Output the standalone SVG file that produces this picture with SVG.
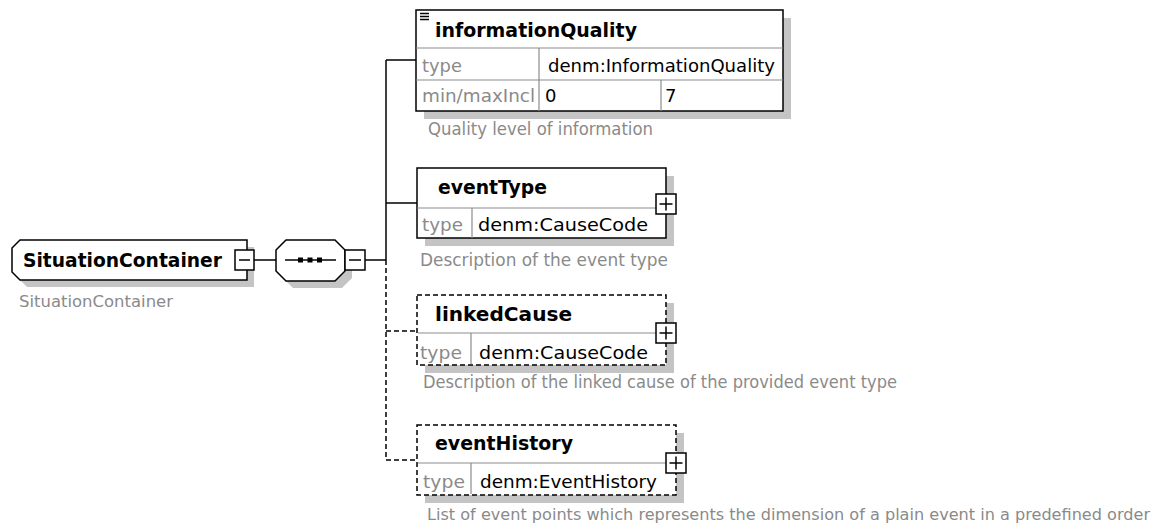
<svg xmlns="http://www.w3.org/2000/svg" width="1167" height="531" viewBox="0 0 1167 531">
<style>
.bg{fill:#ffffff}
.box{fill:#ffffff;stroke:#000;stroke-width:1.5}
.dbox{fill:#ffffff;stroke:#000;stroke-width:1.5;stroke-dasharray:5 3}
.shd{fill:#c4c4c4;stroke:none}
.grid{stroke:#8c8c8c;stroke-width:1.2;fill:none}
.ln{stroke:#000;stroke-width:1.5;fill:none}
.dln{stroke:#000;stroke-width:1.5;fill:none;stroke-dasharray:5 3}
.ttl{font-family:"DejaVu Sans",sans-serif;font-weight:bold;font-size:19px;fill:#000}
.val{font-family:"DejaVu Sans",sans-serif;font-size:18px;fill:#000}
.lbl{font-family:"DejaVu Sans",sans-serif;font-size:18px;fill:#8a8a8a}
.dsc{font-family:"DejaVu Sans",sans-serif;font-size:17px;fill:#8a8a8a}
.pm{fill:#ffffff;stroke:#000;stroke-width:1.5}
</style>
<rect class="bg" x="0" y="0" width="1167" height="531"/>

<g id="connectors">
  <line class="ln" x1="254" y1="260" x2="276" y2="260"/>
  <line class="ln" x1="365" y1="260" x2="386" y2="260"/>
  <line class="ln" x1="386" y1="60" x2="386" y2="260"/>
  <line class="dln" x1="386" y1="260" x2="386" y2="460"/>
  <line class="ln" x1="386" y1="60" x2="416" y2="60"/>
  <line class="ln" x1="386" y1="203" x2="417" y2="203"/>
  <line class="dln" x1="386" y1="331" x2="417" y2="331"/>
  <line class="dln" x1="386" y1="460" x2="417" y2="460"/>
</g>

<g id="node-SituationContainer">
  <path class="shd" d="M27,247 H254 V287 H27 L19,279 V255 Z"/>
  <path class="box" d="M20,240 H247 V280 H20 L12,272 V248 Z"/>
  <text class="ttl" x="23" y="267" textLength="199" lengthAdjust="spacingAndGlyphs">SituationContainer</text>
  <rect class="pm" x="235" y="250" width="19" height="20"/>
  <line class="ln" x1="239" y1="260" x2="250" y2="260"/>
  <text class="dsc" x="19" y="307" textLength="154" lengthAdjust="spacingAndGlyphs" style="font-size:15px">SituationContainer</text>
</g>

<g id="node-sequence">
  <path class="shd" d="M293,247 H342 L352,257 V278 L342,288 H293 L283,278 V257 Z"/>
  <path class="box" d="M286,240 H335 L345,250 V271 L335,281 H286 L276,271 V250 Z"/>
  <line class="ln" x1="285" y1="260" x2="336" y2="260"/>
  <rect x="298" y="257.5" width="5" height="5" fill="#000"/>
  <rect x="307.5" y="257.5" width="5" height="5" fill="#000"/>
  <rect x="317" y="257.5" width="5" height="5" fill="#000"/>
  <rect class="pm" x="345" y="250" width="20" height="20"/>
  <line class="ln" x1="349" y1="260" x2="361" y2="260"/>
</g>

<g id="node-informationQuality">
  <rect class="shd" x="424" y="18" width="367" height="101"/>
  <rect class="box" x="416" y="10" width="367" height="101"/>
  <line class="grid" x1="416" y1="48" x2="783" y2="48"/>
  <line class="grid" x1="416" y1="80" x2="783" y2="80"/>
  <line class="grid" x1="539" y1="48" x2="539" y2="111"/>
  <line class="grid" x1="661" y1="80" x2="661" y2="111"/>
  <line class="ln" x1="420" y1="13.5" x2="429" y2="13.5" stroke-width="1.2"/>
  <line class="ln" x1="420" y1="16.5" x2="429" y2="16.5" stroke-width="1.2"/>
  <line class="ln" x1="420" y1="19.5" x2="429" y2="19.5" stroke-width="1.2"/>
  <text class="ttl" x="435" y="37" textLength="202" lengthAdjust="spacingAndGlyphs">informationQuality</text>
  <text class="lbl" x="422" y="72" textLength="40" lengthAdjust="spacingAndGlyphs">type</text>
  <text class="val" x="548" y="72" textLength="227" lengthAdjust="spacingAndGlyphs">denm:InformationQuality</text>
  <text class="lbl" x="422" y="102" textLength="113" lengthAdjust="spacingAndGlyphs">min/maxIncl</text>
  <text class="val" x="545" y="102">0</text>
  <text class="val" x="665" y="102">7</text>
  <text class="dsc" x="428" y="135" textLength="225" lengthAdjust="spacingAndGlyphs">Quality level of information</text>
</g>

<g id="node-eventType">
  <rect class="shd" x="425" y="176" width="249" height="70"/>
  <rect class="box" x="417" y="168" width="249" height="70"/>
  <line class="grid" x1="417" y1="208" x2="666" y2="208"/>
  <line class="grid" x1="472" y1="208" x2="472" y2="238"/>
  <text class="ttl" x="438" y="194" textLength="109" lengthAdjust="spacingAndGlyphs">eventType</text>
  <text class="lbl" x="422" y="231" textLength="41" lengthAdjust="spacingAndGlyphs">type</text>
  <text class="val" x="478" y="231" textLength="170" lengthAdjust="spacingAndGlyphs">denm:CauseCode</text>
  <rect class="pm" x="656" y="194" width="20" height="20"/>
  <line class="ln" x1="659.5" y1="204" x2="672.5" y2="204"/>
  <line class="ln" x1="666" y1="197.5" x2="666" y2="210.5"/>
  <text class="dsc" x="420" y="266" textLength="248" lengthAdjust="spacingAndGlyphs">Description of the event type</text>
</g>

<g id="node-linkedCause">
  <rect class="shd" x="425" y="303" width="249" height="70"/>
  <rect class="dbox" x="417" y="295" width="249" height="70"/>
  <line class="grid" x1="418" y1="333" x2="665" y2="333"/>
  <line class="grid" x1="471" y1="333" x2="471" y2="364"/>
  <text class="ttl" x="435" y="321" textLength="137" lengthAdjust="spacingAndGlyphs">linkedCause</text>
  <text class="lbl" x="420" y="359" textLength="42" lengthAdjust="spacingAndGlyphs">type</text>
  <text class="val" x="479" y="359" textLength="169" lengthAdjust="spacingAndGlyphs">denm:CauseCode</text>
  <rect class="pm" x="656" y="323" width="20" height="20"/>
  <line class="ln" x1="659.5" y1="333" x2="672.5" y2="333"/>
  <line class="ln" x1="666" y1="326.5" x2="666" y2="339.5"/>
  <text class="dsc" x="423" y="388" textLength="474" lengthAdjust="spacingAndGlyphs">Description of the linked cause of the provided event type</text>
</g>

<g id="node-eventHistory">
  <rect class="shd" x="425" y="433" width="259" height="70"/>
  <rect class="dbox" x="417" y="425" width="259" height="70"/>
  <line class="grid" x1="418" y1="463" x2="675" y2="463"/>
  <line class="grid" x1="471" y1="463" x2="471" y2="494"/>
  <text class="ttl" x="435" y="450" textLength="138" lengthAdjust="spacingAndGlyphs">eventHistory</text>
  <text class="lbl" x="423" y="488" textLength="42" lengthAdjust="spacingAndGlyphs">type</text>
  <text class="val" x="480" y="488" textLength="177" lengthAdjust="spacingAndGlyphs">denm:EventHistory</text>
  <rect class="pm" x="666" y="453" width="20" height="20"/>
  <line class="ln" x1="669.5" y1="463" x2="682.5" y2="463"/>
  <line class="ln" x1="676" y1="456.5" x2="676" y2="469.5"/>
  <text class="dsc" x="427" y="520" textLength="723" lengthAdjust="spacingAndGlyphs" style="font-size:16px">List of event points which represents the dimension of a plain event in a predefined order</text>
</g>
</svg>
